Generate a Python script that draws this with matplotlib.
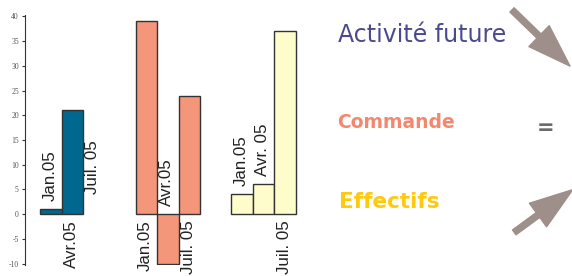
import matplotlib
matplotlib.use("Agg")
import matplotlib.pyplot as plt

# data
groups = ["Activité future", "Commande", "Effectifs"]
labels_activite = ["Jan.05", "Avr.05", "Juil. 05"]
labels_commande = ["Jan.05", "Avr.05", "Juil. 05"]
labels_effectifs = ["Jan.05", "Avr. 05", "Juil. 05"]
activite = [1, 21, 0]
commande = [39, -10, 24]
effectifs = [4, 6, 37]
yticks = [-10, -5, 0, 5, 10, 15, 20, 25, 30, 35, 40]

# where each period label sits (above the bar or below zero)
sides_activite = ["above", "below", "above"]
sides_commande = ["below", "above", "below"]
sides_effectifs = ["above", "above", "below"]

colors = ["#00678f", "#f4967a", "#fffccc"]
text_colors = ["#4b4a8c", "#f4876e", "#ffc90e"]
group_gap = 4.45


def draw_group(ax, g, values, labels, sides, color):
    xs = [g * group_gap + i for i in range(len(values))]
    edges = ["#333333" if v != 0 else "none" for v in values]
    ax.bar(xs, values, width=1.0, align="edge", color=color,
           edgecolor=edges, linewidth=1.0)
    for x, v, lab, side in zip(xs, values, labels, sides):
        if side == "above":
            off = 20 if v == 0 else 8
            ax.annotate(lab, (x + 0.5, max(v, 0)), xytext=(-1, off),
                        textcoords="offset pixels", rotation=90,
                        ha="center", va="bottom", fontsize=12.2,
                        family="Liberation Sans", color="#222222")
        else:
            ax.annotate(lab, (x + 0.5, 0), xytext=(-1, -6),
                        textcoords="offset pixels", rotation=90,
                        ha="center", va="top", fontsize=12.2,
                        family="Liberation Sans", color="#222222")


fig = plt.figure(figsize=(5.72, 2.76), dpi=100)
ax = fig.add_axes([25 / 572, 11 / 276, 285 / 572, 250 / 276])

draw_group(ax, 0, activite, labels_activite, sides_activite, colors[0])
draw_group(ax, 1, commande, labels_commande, sides_commande, colors[1])
draw_group(ax, 2, effectifs, labels_effectifs, sides_effectifs, colors[2])

ax.set_xlim(-0.7, 12.56)
ax.set_ylim(-10.3, 40.3)
ax.set_yticks(yticks)
ax.set_yticklabels([str(t) for t in yticks], family="Liberation Serif",
                   fontsize=5.5, color="#555555")
ax.tick_params(axis="y", length=2.5, width=0.8, color="#333333", pad=2)
ax.set_xticks([])
for s in ["top", "right", "bottom"]:
    ax.spines[s].set_visible(False)
ax.spines["left"].set_color("#333333")
ax.patch.set_alpha(0)

# right-hand text
fig.text(338 / 572, 1 - 35 / 276, groups[0], color=text_colors[0],
         fontsize=17, va="center", ha="left", family="DejaVu Sans")
fig.text(337 / 572, 1 - 122 / 276, groups[1], color=text_colors[1],
         fontsize=13.5, fontweight="bold", va="center", ha="left",
         family="DejaVu Sans")
fig.text(339 / 572, 1 - 202 / 276, groups[2], color=text_colors[2],
         fontsize=15.5, fontweight="bold", va="center", ha="left",
         family="DejaVu Sans")
fig.text(546 / 572, 1 - 128 / 276, "=", color="#6e6a6a", fontsize=15,
         fontweight="bold", va="center", ha="center")

arrow_style = "simple,head_length=3.1,head_width=2.1,tail_width=0.43"
fig.add_artist(matplotlib.patches.FancyArrowPatch(
    (510, 268), (572, 208), arrowstyle=arrow_style, mutation_scale=10,
    color="#9e8f8b", transform=None))
fig.add_artist(matplotlib.patches.FancyArrowPatch(
    (512, 42), (575, 88), arrowstyle=arrow_style, mutation_scale=10,
    color="#9e8f8b", transform=None))

fig.savefig("out.png", dpi=100)
